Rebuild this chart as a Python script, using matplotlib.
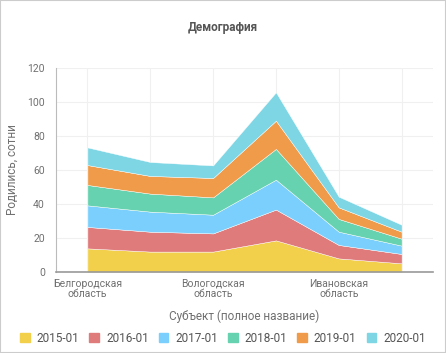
import numpy as np
import matplotlib.pyplot as plt
from matplotlib.patches import Rectangle

plt.rcParams['font.family'] = ['Roboto', 'DejaVu Sans']

# Regions (only every other one is labelled on the axis)
regions = ['Белгородская\nобласть', 'Брянская\nобласть', 'Вологодская\nобласть',
           'Воронежская\nобласть', 'Ивановская\nобласть', 'Калужская\nобласть']

# Births, hundreds
y2015 = [13.9, 12.0, 12.0, 18.6, 8.0, 5.1]
y2016 = [12.6, 11.7, 10.7, 18.1, 7.9, 5.5]
y2017 = [12.7, 11.8, 11.0, 17.6, 7.8, 4.9]
y2018 = [12.0, 10.6, 10.2, 18.1, 7.5, 4.1]
y2019 = [11.7, 10.4, 11.4, 16.6, 6.8, 4.1]
y2020 = [10.4, 8.2, 7.4, 16.7, 6.3, 4.1]

series = ['2015-01', '2016-01', '2017-01', '2018-01', '2019-01', '2020-01']
colors = ['#F2D04B', '#E07B7B', '#7ACFFD', '#66D2B0', '#EF9B4A', '#7ED6E4']

fig = plt.figure(figsize=(4.46, 3.53), dpi=100)
ax = fig.add_axes([56/446, 1 - 272/353, (433-56)/446, (272-68)/353])

x = np.arange(len(regions))
ax.stackplot(x, y2015, y2016, y2017, y2018, y2019, y2020,
             colors=colors, edgecolor='white', linewidth=0.3, zorder=2)

ax.set_xlim(-0.5, len(regions) - 0.5)
ax.set_ylim(0, 120)
ax.set_yticks(range(0, 121, 20))
ax.set_xticks(x)
ax.set_xticklabels([r if i % 2 == 0 else '' for i, r in enumerate(regions)],
                   fontsize=7.5, color='#707070', linespacing=1.0)
ax.tick_params(axis='y', labelsize=7.5, labelcolor='#707070', length=0, pad=8)
ax.tick_params(axis='x', length=0, pad=5)
ax.grid(True, color='#f0f0f0', linewidth=0.8, zorder=0)
ax.set_axisbelow(True)

for s in ['top', 'right']:
    ax.spines[s].set_visible(False)
ax.spines['left'].set_color('#bbbbbb')
ax.spines['left'].set_linewidth(0.8)
ax.spines['bottom'].set_color('#999999')
ax.spines['bottom'].set_linewidth(1.2)

ax.set_ylabel('Родились, сотни', fontsize=8.5, color='#707070', labelpad=6)
ax.set_xlabel('Субъект (полное название)', fontsize=8.5, color='#707070', labelpad=8)

fig.text(0.5, 1 - 28/353, 'Демография', ha='center', va='center',
         fontsize=8.5, fontweight='bold', color='#555555')

handles = [Rectangle((0, 0), 1, 1, color=c) for c in colors]
fig.legend(handles, series, loc='center', bbox_to_anchor=(0.5, 1 - 338/353),
           ncol=6, frameon=False, fontsize=8.5, labelcolor='#555555',
           handlelength=0.8, handleheight=0.8, handletextpad=0.6, columnspacing=0.85)

# light frame around the whole picture
fig.patches.append(Rectangle((0, 0), 1, 1, transform=fig.transFigure,
                             fill=False, edgecolor='#cccccc', linewidth=1.5))

fig.savefig('out.png', dpi=100)
